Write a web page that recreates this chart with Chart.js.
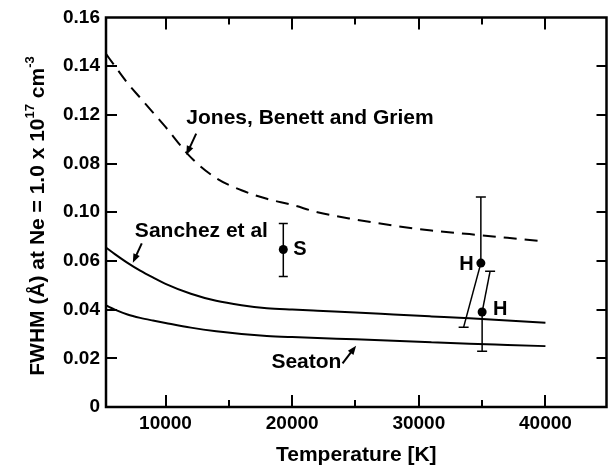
<!DOCTYPE html>
<html><head><meta charset="utf-8">
<script src="https://cdn.jsdelivr.net/npm/chart.js@4.4.0/dist/chart.umd.min.js"></script>
<style>html,body{margin:0;padding:0;background:#fff;}</style>
</head><body>
<canvas id="c" width="614" height="468"></canvas>
<script>
// ---------- data ----------
const temperatures = [5300, 6000, 7000, 8000, 9000, 10000, 12000, 14000, 16000, 18000, 20000, 22000, 25000, 28000, 31000, 34000, 37000, 40000];
const jonesBenettGriem = [0.145, 0.140, 0.133, 0.127, 0.121, 0.115, 0.1025, 0.094, 0.089, 0.0855, 0.083, 0.080, 0.077, 0.0745, 0.0725, 0.071, 0.0695, 0.068];
const sanchezEtAl = [0.0655, 0.0628, 0.0592, 0.056, 0.0532, 0.0506, 0.0465, 0.0436, 0.0418, 0.0406, 0.040, 0.0395, 0.0388, 0.038, 0.0372, 0.0364, 0.0355, 0.0346];
const seaton = [0.0417, 0.040, 0.038, 0.0366, 0.0355, 0.0345, 0.0326, 0.0311, 0.030, 0.0292, 0.0287, 0.0283, 0.0278, 0.0272, 0.0266, 0.026, 0.0255, 0.025];

// measured points: S, H (upper), H (lower)
const measLabels = ['S', 'H', 'H'];
const measT = [19300, 34900, 35000];
const measV = [0.0647, 0.0591, 0.0390];
const errLow = [0.0536, 0.0591, 0.0229];
const errHigh = [0.0754, 0.0862, 0.0390];
// slanted error bars of the two H points
const slantT = [33540, 35630];
const slantV = [0.0328, 0.0558];

const xTickValues = [10000, 20000, 30000, 40000];
const xMinorTicks = [15000, 25000, 35000];
const yTickValues = [0, 0.02, 0.04, 0.06, 0.08, 0.10, 0.12, 0.14, 0.16];
const yTickLabels = ['0', '0.02', '0.04', '0.06', '0.10', '0.08', '0.12', '0.14', '0.16'];

// ---------- annotation placement (data units) ----------
const curveNotes = [
  {text: 'Jones, Benett and Griem', at: [11640, 0.1184], from: [12420, 0.1123], to: [11640, 0.1035]},
  {text: 'Sanchez et al', at: [7580, 0.0721], from: [8125, 0.0672], to: [7420, 0.0592]},
  {text: 'Seaton', at: [18360, 0.0183], from: [23980, 0.0179], to: [25050, 0.0252]}
];
const pointNotes = [
  {at: [20080, 0.0647], align: 'left'},
  {at: [34330, 0.0585], align: 'right'},
  {at: [35860, 0.0400], align: 'left'}
];

const FONT = '"Liberation Sans", Arial, Helvetica, sans-serif';
const xy = (xs, ys) => xs.map((x, i) => ({x, y: ys[i]}));

const datasets = [
  {data: xy(temperatures, jonesBenettGriem), borderColor: '#000', borderWidth: 2, borderDash: [13, 8], pointRadius: 0, cubicInterpolationMode: 'monotone', fill: false},
  {data: xy(temperatures, sanchezEtAl), borderColor: '#000', borderWidth: 2, pointRadius: 0, cubicInterpolationMode: 'monotone', fill: false},
  {data: xy(temperatures, seaton), borderColor: '#000', borderWidth: 2, pointRadius: 0, cubicInterpolationMode: 'monotone', fill: false},
  {data: [{x: measT[0], y: errLow[0]}, {x: measT[0], y: errHigh[0]}], borderColor: '#000', borderWidth: 1.5, pointStyle: 'line', pointRadius: 4.5, pointBorderWidth: 1.5, pointBorderColor: '#000'},
  {data: [{x: measT[1], y: errLow[1]}, {x: measT[1], y: errHigh[1]}], borderColor: '#000', borderWidth: 1.5, pointStyle: 'line', pointRadius: [0, 5], pointBorderWidth: 1.5, pointBorderColor: '#000'},
  {data: [{x: measT[1], y: measV[1]}, {x: slantT[0], y: slantV[0]}], borderColor: '#000', borderWidth: 1.5, pointStyle: 'line', pointRadius: [0, 5], pointBorderWidth: 1.5, pointBorderColor: '#000'},
  {data: [{x: measT[2], y: errHigh[2]}, {x: measT[2], y: errLow[2]}], borderColor: '#000', borderWidth: 1.5, pointStyle: 'line', pointRadius: [0, 5], pointBorderWidth: 1.5, pointBorderColor: '#000'},
  {data: [{x: measT[2], y: measV[2]}, {x: slantT[1], y: slantV[1]}], borderColor: '#000', borderWidth: 1.5, pointStyle: 'line', pointRadius: [0, 5], pointBorderWidth: 1.5, pointBorderColor: '#000'},
  {data: xy(measT, measV), showLine: false, pointStyle: 'circle', pointRadius: 4.5, pointBackgroundColor: '#000', pointBorderColor: '#000', pointBorderWidth: 0}
];

function arrow(ctx, x1, y1, x2, y2) {
  const ang = Math.atan2(y2 - y1, x2 - x1);
  const L = 9, W = 3.5;
  ctx.beginPath();
  ctx.moveTo(x1, y1);
  ctx.lineTo(x2 - Math.cos(ang) * L * 0.6, y2 - Math.sin(ang) * L * 0.6);
  ctx.lineWidth = 2; ctx.strokeStyle = '#000'; ctx.stroke();
  ctx.beginPath();
  ctx.moveTo(x2, y2);
  ctx.lineTo(x2 - Math.cos(ang) * L + Math.sin(ang) * W, y2 - Math.sin(ang) * L - Math.cos(ang) * W);
  ctx.lineTo(x2 - Math.cos(ang) * L - Math.sin(ang) * W, y2 - Math.sin(ang) * L + Math.cos(ang) * W);
  ctx.closePath(); ctx.fillStyle = '#000'; ctx.fill();
}

const decorPlugin = {
  id: 'decor',
  afterDraw(chart) {
    const ctx = chart.ctx;
    const xs = chart.scales.x, ys = chart.scales.y;
    const L = xs.getPixelForValue(xs.min), R = xs.getPixelForValue(xs.max) - 1;
    const T = ys.getPixelForValue(ys.max), B = ys.getPixelForValue(ys.min);
    ctx.save();
    ctx.strokeStyle = '#000';
    ctx.lineWidth = 2.5;
    ctx.beginPath();
    ctx.moveTo(L, T); ctx.lineTo(R, T); ctx.lineTo(R, B); ctx.lineTo(L, B); ctx.closePath();
    ctx.stroke();
    ctx.lineWidth = 2;
    ctx.beginPath();
    yTickValues.forEach(v => {
      if (v === 0 || v === 0.16) return;
      const y = Math.round(ys.getPixelForValue(v));
      ctx.moveTo(L, y); ctx.lineTo(L + 11, y);
      ctx.moveTo(R - 10, y); ctx.lineTo(R, y);
    });
    xTickValues.forEach(v => {
      const x = Math.round(xs.getPixelForValue(v));
      ctx.moveTo(x, B); ctx.lineTo(x, B - 12);
      ctx.moveTo(x, T); ctx.lineTo(x, T + 12);
    });
    xMinorTicks.forEach(v => {
      const x = Math.round(xs.getPixelForValue(v));
      ctx.moveTo(x, B); ctx.lineTo(x, B - 7);
      ctx.moveTo(x, T); ctx.lineTo(x, T + 7);
    });
    ctx.stroke();

    ctx.font = 'bold 21px ' + FONT;
    ctx.textBaseline = 'middle';
    curveNotes.forEach(n => {
      ctx.fillStyle = '#000';
      ctx.textAlign = 'left';
      ctx.fillText(n.text, xs.getPixelForValue(n.at[0]), ys.getPixelForValue(n.at[1]));
      arrow(ctx, xs.getPixelForValue(n.from[0]), ys.getPixelForValue(n.from[1]), xs.getPixelForValue(n.to[0]), ys.getPixelForValue(n.to[1]));
    });
    ctx.fillStyle = '#000';
    ctx.font = 'bold 20px ' + FONT;
    pointNotes.forEach((n, i) => {
      ctx.textAlign = n.align;
      ctx.fillText(measLabels[i], xs.getPixelForValue(n.at[0]), ys.getPixelForValue(n.at[1]));
    });

    ctx.font = 'bold 21px ' + FONT;
    ctx.textAlign = 'center';
    ctx.fillText('Temperature [K]', (L + R) / 2, 455);

    const parts = [
      {t: 'FWHM (Å) at Ne = 1.0 x 10', size: 21, dy: 0},
      {t: '17', size: 13, dy: -10},
      {t: ' cm', size: 21, dy: 0},
      {t: '-3', size: 13, dy: -10}
    ];
    let total = 0;
    parts.forEach(p => { ctx.font = 'bold ' + p.size + 'px ' + FONT; p.w = ctx.measureText(p.t).width; total += p.w; });
    ctx.translate(36, 216);
    ctx.rotate(-Math.PI / 2);
    ctx.textAlign = 'left';
    ctx.textBaseline = 'alphabetic';
    let cx = -total / 2;
    parts.forEach(p => {
      ctx.font = 'bold ' + p.size + 'px ' + FONT;
      ctx.fillText(p.t, cx, 8 + p.dy);
      cx += p.w;
    });
    ctx.restore();
  }
};

new Chart(document.getElementById('c'), {
  type: 'line',
  data: {datasets},
  options: {
    responsive: false,
    animation: false,
    devicePixelRatio: 1,
    layout: {padding: {left: 0, top: 17, right: 1, bottom: 0}},
    plugins: {legend: {display: false}, tooltip: {enabled: false}},
    scales: {
      x: {
        type: 'linear', min: 5300, max: 44900,
        grid: {display: false, drawTicks: false}, border: {display: false},
        afterBuildTicks: s => { s.ticks = xTickValues.map(v => ({value: v})); },
        ticks: {font: {family: FONT, size: 19, weight: 'bold'}, color: '#000', padding: 5, maxRotation: 0, autoSkip: false, callback: v => String(v)},
        afterFit: s => { s.height = 61; }
      },
      y: {
        type: 'linear', min: 0, max: 0.16,
        grid: {display: false, drawTicks: false}, border: {display: false},
        afterBuildTicks: s => { s.ticks = yTickValues.map(v => ({value: v})); },
        ticks: {font: {family: FONT, size: 19, weight: 'bold'}, color: '#000', padding: 6, autoSkip: false, callback: (v, i) => yTickLabels[i]},
        afterFit: s => { s.width = 106; }
      }
    }
  },
  plugins: [decorPlugin]
});
</script>
</body></html>
